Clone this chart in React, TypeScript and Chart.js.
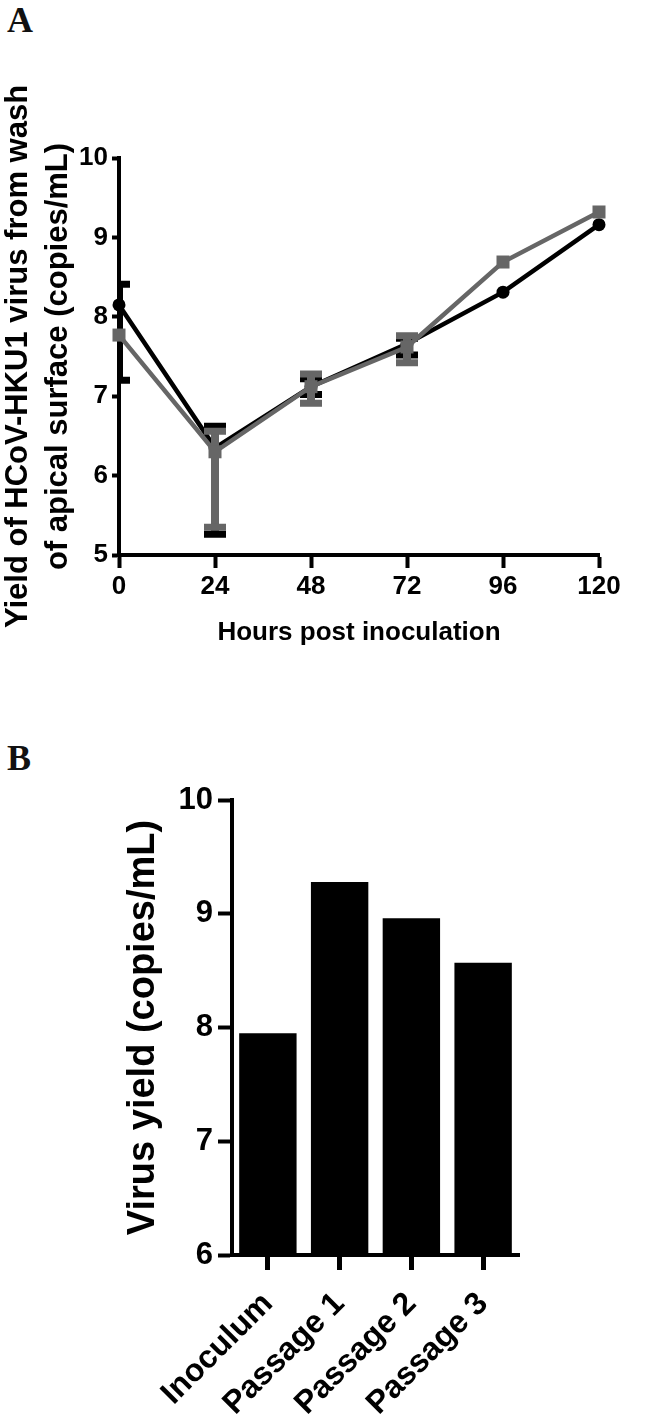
import React, { useEffect, useRef } from 'react';
import { Chart, registerables } from 'chart.js';

Chart.register(...registerables);

// ---------- Panel A data ----------
const hours = [0, 24, 48, 72, 96, 120];
const blackMean = [8.15, 6.35, 7.12, 7.66, 8.31, 9.16];
const blackUpper = [8.41, 6.62, 7.22, 7.73, 8.31, 9.16];
const blackLower = [7.2, 5.26, 7.02, 7.52, 8.31, 9.16];
const grayMean = [7.77, 6.3, 7.12, 7.62, 8.69, 9.32];
const grayUpper = [7.77, 6.56, 7.28, 7.76, 8.69, 9.32];
const grayLower = [7.77, 5.35, 6.91, 7.42, 8.69, 9.32];
const xTitleA = 'Hours post inoculation';
const yTitleA = ['Yield of HCoV-HKU1 virus from wash', 'of apical surface (copies/mL)'];

// ---------- Panel B data ----------
const categories = ['Inoculum', 'Passage 1', 'Passage 2', 'Passage 3'];
const yields = [7.95, 9.28, 8.96, 8.57];
const yTitleB = 'Virus yield (copies/mL)';

const sans = "'Liberation Sans', Arial, Helvetica, sans-serif";

const errorBarPlugin = {
  id: 'errorBars',
  beforeDatasetDraw(chart: any, args: any) {
    const ds = chart.data.datasets[args.index];
    if (!ds.errHigh) return;
    const xs = chart.scales.x;
    const ys = chart.scales.y;
    const ctx = chart.ctx;
    const ca = chart.chartArea;
    ctx.save();
    ctx.beginPath();
    ctx.rect(ca.left, 0, chart.width - ca.left, chart.height);
    ctx.clip();
    ctx.strokeStyle = ds.borderColor;
    ctx.lineCap = 'butt';
    ds.data.forEach((p: any, i: number) => {
      if (ds.errHigh[i] === ds.errLow[i]) return;
      const x = xs.getPixelForValue(p.x);
      const yHi = ys.getPixelForValue(ds.errHigh[i]);
      const yLo = ys.getPixelForValue(ds.errLow[i]);
      ctx.lineWidth = 8;
      ctx.beginPath();
      ctx.moveTo(x, yHi);
      ctx.lineTo(x, yLo);
      ctx.stroke();
      ctx.lineWidth = 7;
      ctx.beginPath();
      ctx.moveTo(x - 11, yHi);
      ctx.lineTo(x + 11, yHi);
      ctx.moveTo(x - 11, yLo);
      ctx.lineTo(x + 11, yLo);
      ctx.stroke();
    });
    ctx.restore();
  },
};

function PanelA() {
  const ref = useRef<HTMLCanvasElement>(null);
  useEffect(() => {
    const chart = new Chart(ref.current as HTMLCanvasElement, {
      type: 'line',
      data: {
        datasets: [
          {
            label: 'gray',
            data: hours.map((h, i) => ({ x: h, y: grayMean[i] })),
            borderColor: '#666666',
            backgroundColor: '#666666',
            borderWidth: 4.5,
            pointStyle: 'rect',
            pointRadius: 9.2,
            pointBorderWidth: 0,
            pointBackgroundColor: '#666666',
            tension: 0,
            clip: false,
            errHigh: grayUpper,
            errLow: grayLower,
          } as any,
          {
            label: 'black',
            data: hours.map((h, i) => ({ x: h, y: blackMean[i] })),
            borderColor: '#000000',
            backgroundColor: '#000000',
            borderWidth: 4.5,
            pointStyle: 'circle',
            pointRadius: 6.5,
            pointBorderWidth: 0,
            pointBackgroundColor: '#000000',
            tension: 0,
            clip: false,
            errHigh: blackUpper,
            errLow: blackLower,
          } as any,
        ],
      },
      options: {
        responsive: false,
        animation: false,
        layout: { padding: { left: 0, right: 65, top: 158, bottom: 0 } },
        plugins: { legend: { display: false }, tooltip: { enabled: false } },
        scales: {
          x: {
            type: 'linear',
            min: 0,
            max: 120,
            afterFit: (s: any) => { s.height = 105; },
            ticks: {
              stepSize: 24,
              autoSkip: false,
              maxRotation: 0,
              padding: 3,
              color: '#000',
              font: { family: sans, size: 26, weight: 'bold' },
            },
            grid: { display: true, drawOnChartArea: false, drawTicks: true, tickLength: 13, tickWidth: 4, tickColor: '#000' },
            border: { display: true, color: '#000', width: 4 },
            title: {
              display: true,
              text: xTitleA,
              color: '#000',
              font: { family: sans, size: 26, weight: 'bold' },
              padding: { top: 0, bottom: 12 },
            },
          },
          y: {
            type: 'linear',
            min: 5,
            max: 10,
            afterFit: (s: any) => { s.width = 119; },
            ticks: {
              stepSize: 1,
              padding: 4,
              color: '#000',
              font: { family: sans, size: 26, weight: 'bold' },
            },
            grid: { display: true, drawOnChartArea: false, drawTicks: true, tickLength: 7, tickWidth: 4, tickColor: '#000' },
            border: { display: true, color: '#000', width: 4 },
            title: {
              display: true,
              text: yTitleA,
              color: '#000',
              font: { family: sans, size: 31, weight: 'bold', lineHeight: 40 / 31 },
              padding: { top: -2, bottom: 0 },
            },
          },
        },
      } as any,
      plugins: [errorBarPlugin],
    });
    return () => chart.destroy();
  }, []);
  return <canvas ref={ref} width={664} height={660} style={{ position: 'absolute', left: 0, top: 0, width: 664, height: 660 }} />;
}

function PanelB() {
  const ref = useRef<HTMLCanvasElement>(null);
  useEffect(() => {
    const chart = new Chart(ref.current as HTMLCanvasElement, {
      type: 'bar',
      data: {
        labels: categories,
        datasets: [
          {
            data: yields,
            backgroundColor: '#000000',
            borderWidth: 0,
            barPercentage: 0.8,
            categoryPercentage: 1,
          },
        ],
      },
      options: {
        responsive: false,
        animation: false,
        layout: { padding: { left: 0, right: 145, top: 100, bottom: 0 } },
        plugins: { legend: { display: false }, tooltip: { enabled: false } },
        scales: {
          x: {
            afterFit: (s: any) => { s.height = 170; },
            ticks: {
              autoSkip: false,
              minRotation: 45,
              maxRotation: 45,
              padding: 15,
              color: '#000',
              font: { family: sans, size: 32, weight: 'bold' },
            },
            grid: { display: true, offset: false, drawOnChartArea: false, drawTicks: true, tickLength: 15, tickWidth: 5, tickColor: '#000' },
            border: { display: true, color: '#000', width: 4 },
          },
          y: {
            min: 6,
            max: 10,
            afterFit: (s: any) => { s.width = 232; },
            ticks: {
              stepSize: 1,
              padding: 5,
              color: '#000',
              font: { family: sans, size: 31, weight: 'bold' },
            },
            grid: { display: true, drawOnChartArea: false, drawTicks: true, tickLength: 14, tickWidth: 4, tickColor: '#000' },
            border: { display: true, color: '#000', width: 4 },
            title: {
              display: true,
              text: yTitleB,
              color: '#000',
              font: { family: sans, size: 38, weight: 'bold' },
              padding: { top: 121, bottom: 0 },
            },
          },
        },
      } as any,
    });
    return () => chart.destroy();
  }, []);
  return <canvas ref={ref} width={664} height={725} style={{ position: 'absolute', left: 0, top: 700, width: 664, height: 725 }} />;
}

const letterStyle: React.CSSProperties = {
  position: 'absolute',
  left: 7,
  fontFamily: "'Liberation Serif', 'Times New Roman', serif",
  fontWeight: 'bold',
  fontSize: 36,
  lineHeight: 1,
  color: '#111',
};

export default function App() {
  return (
    <div style={{ position: 'absolute', left: 0, top: 0, width: 664, height: 1425, background: '#fff', overflow: 'hidden' }}>
      <div style={{ ...letterStyle, top: 2 }}>A</div>
      <PanelA />
      <div style={{ ...letterStyle, top: 740 }}>B</div>
      <PanelB />
    </div>
  );
}
